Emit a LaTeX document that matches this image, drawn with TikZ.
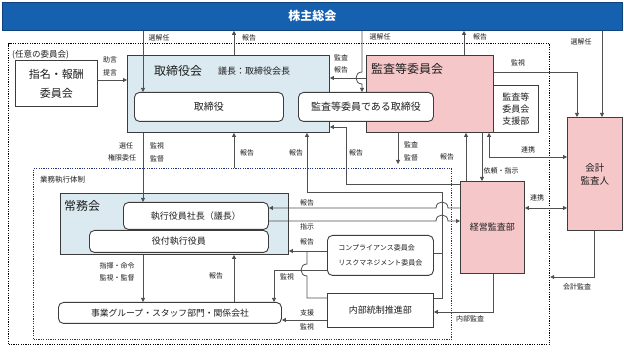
\documentclass[tikz,border=0pt]{standalone}
\usepackage{fontspec}
\setmainfont{Noto Sans CJK JP}
\usetikzlibrary{arrows.meta,calc}
\definecolor{banblue}{RGB}{22,96,176}
\definecolor{lblue}{RGB}{219,234,241}
\definecolor{pinkf}{RGB}{246,199,201}
\definecolor{bd}{RGB}{60,60,60}
\definecolor{lnc}{RGB}{80,80,80}
\definecolor{navy}{RGB}{30,50,120}
\definecolor{txt}{RGB}{30,30,30}
\begin{document}
\begin{tikzpicture}[x=1pt,y=-1pt,
  box/.style={draw=bd, line width=0.9pt, inner sep=0pt, anchor=north west, align=center, text=txt},
  rbox/.style={box, rounded corners=5pt, fill=white},
  ln/.style={draw=lnc, line width=0.8pt},
  arr/.style={ln, -{Triangle[length=4pt,width=4pt]}},
  darr/.style={ln, {Triangle[length=4pt,width=4pt]}-{Triangle[length=4pt,width=4pt]}},
  lab/.style={font=\fontsize{7}{8}\selectfont, text=txt, inner sep=0pt},
  fA/.style={font=\fontsize{12}{14}\selectfont},
  fB/.style={font=\fontsize{9.5}{12}\selectfont},
  fC/.style={font=\fontsize{9}{12}\selectfont},
]
\useasboundingbox (0,0) rectangle (624,352);
\fill[white] (0,0) rectangle (624,352);

% dotted frames
\node[draw=black, line width=1.2pt, dash pattern=on 1.2pt off 1.2pt, anchor=north west, minimum width=541pt, minimum height=301pt, inner sep=0pt] (outer) at (8,43) {};
\node[draw=navy, line width=1.2pt, dash pattern=on 1.2pt off 1.2pt, anchor=north west, minimum width=418pt, minimum height=171pt, inner sep=0pt] (inner) at (33,168) {};
\node[anchor=west, inner sep=0pt, font=\fontsize{8.5}{10}\selectfont, text=txt] (tnin) at (12,55) {(任意の委員会)};
\node[anchor=west, inner sep=0pt, font=\fontsize{7.5}{9}\selectfont, text=txt] (tgyomu) at (40,180) {業務執行体制};

% banner
\node[fill=banblue, draw=banblue!70!black, line width=0.8pt, anchor=north west, minimum width=620pt, minimum height=28pt, inner sep=0pt, text=white, font=\bfseries\fontsize{12}{14}\selectfont] (ban) at (2,2) {株主総会};

% boxes
\node[box, minimum width=82pt, minimum height=46pt, font=\fontsize{11}{19}\selectfont] (nom) at (15,60) {指名・報酬\\委員会};
\node[box, fill=lblue, minimum width=202pt, minimum height=77pt] (torikai) at (127,55) {};
\node[box, fill=pinkf, minimum width=127pt, minimum height=77pt] (kansakai) at (366,55) {};
\node[box, fill=white, minimum width=45pt, minimum height=47pt, fC, font=\fontsize{9}{12}\selectfont] (shien) at (493,85) {監査等\\委員会\\支援部};
\node[rbox, minimum width=149pt, minimum height=29pt, font=\fontsize{10}{12}\selectfont] (tor) at (134,92) {取締役};
\node[rbox, minimum width=135pt, minimum height=29pt, font=\fontsize{10}{12}\selectfont] (kantor) at (298,92) {監査等委員である取締役};
\node[anchor=west, inner sep=0pt, fA, text=txt] (ttorikai) at (154,71) {取締役会};
\node[anchor=west, inner sep=0pt, fC, text=txt] (tgicho) at (218,71) {議長：取締役会長};
\node[anchor=west, inner sep=0pt, fA, text=txt] (tkansa) at (371,69) {監査等委員会};

\node[box, fill=pinkf, minimum width=55pt, minimum height=113pt, font=\fontsize{9.5}{13}\selectfont] (kaikei) at (567,117) {会計\\監査人};
\node[box, fill=pinkf, minimum width=64pt, minimum height=92pt, fC] (keiei) at (460,181) {経営監査部};

\node[box, fill=lblue, minimum width=228pt, minimum height=61pt] (jomu) at (60,193) {};
\node[anchor=west, inner sep=0pt, fA, text=txt] (tjomu) at (64,206) {常務会};
\node[rbox, minimum width=145pt, minimum height=27pt, fC] (shacho) at (123,202) {執行役員社長（議長）};
\node[rbox, minimum width=179pt, minimum height=22pt, fC] (yaku) at (89,230) {役付執行役員};
\node[rbox, minimum width=223pt, minimum height=21pt, font=\fontsize{8.8}{11}\selectfont] (jigyo) at (58,302) {事業グループ・スタッフ部門・関係会社};
\node[rbox, minimum width=106pt, minimum height=40pt, font=\fontsize{7}{15}\selectfont, align=left] (comp) at (327,235) {コンプライアンス委員会\\リスクマネジメント委員会};
\node[box, fill=white, minimum width=106pt, minimum height=34pt, fC] (naibu) at (327,293) {内部統制推進部};

% helper coordinates
\foreach \v in {143,234,274,307,346,362,398,442,464,466,482,489,493,577,594,602}{\coordinate (X\v) at (\v,0);}
\foreach \v in {72,78,127,157,184,192,208,221,251,253,270,277,298,312,320,80}{\coordinate (Y\v) at (0,\v);}

% connectors
\draw[arr] (nom.east |- Y80) -- (torikai.west |- Y80);
\draw[arr] (ban.south -| X143) -- (tor.north -| X143);
\draw[arr] (torikai.north -| X234) -- (ban.south -| X234);
\draw[arr] (ban.south -| X362) -- (362,72) .. controls (354,72) and (354,84) .. (362,84) -- (kantor.north -| X362);
\draw[arr] (kansakai.west |- Y78) -- (torikai.east |- Y78);
\draw[arr] (kansakai.north -| X464) -- (ban.south -| X464);
\draw[arr] (ban.south -| X602) -- (kaikei.north -| X602);
\draw[arr] (kansakai.east |- Y72) -| (kaikei.north -| X577);
\draw[darr] (kansakai.south -| X489) |- (kaikei.west |- Y157);
\draw[arr] (keiei.north -| X466) -- (kansakai.south -| X466);
\draw[arr] (kansakai.south -| X482) -- (keiei.north -| X482);
\draw[arr, shorten >=4pt] (kansakai.south -| X398) -- (inner.north -| X398);
\draw[arr] (inner.north -| X234) -- (torikai.south -| X234);
\draw[arr] (naibu.east |- Y298) -- (X442 |- Y298) -- (X442 |- Y192) -- (X307 |- Y192) -- (torikai.south -| X307);
\draw[ln] (comp.east |- Y253) -- (X442 |- Y253);
\draw[arr] (keiei.west |- Y184) -| (X346 |- Y127) -- (torikai.east |- Y127);
\draw[arr] (torikai.south -| X143) -- (shacho.north -| X143);
\draw[arr] (keiei.west |- Y208) -- (448,208) .. controls (448,200) and (436,200) .. (436,208) -- (shacho.east |- Y208);
\draw[arr] (shacho.east |- Y221) -- (436,221) .. controls (436,213) and (448,213) .. (448,221) -- (keiei.west |- Y221);
\draw[arr] (comp.west |- Y251) -- (jomu.east |- Y251);
\draw[ln] (naibu.west |- Y298) -- (307,298) -- (307,276) .. controls (299,276) and (299,264) .. (307,264) -- (307,251);
\draw[arr] (comp.west |- Y270) -| (jigyo.north -| X274);
\draw[arr] (jomu.south -| X143) -- (jigyo.north -| X143);
\draw[arr] (jigyo.north -| X234) -- (jomu.south -| X234);
\draw[arr] (naibu.west |- Y320) -- (jigyo.east |- Y320);
\draw[arr] (keiei.south -| X493) |- (naibu.east |- Y312);
\draw[darr] (keiei.east |- Y208) -- (kaikei.west |- Y208);
\draw[arr] (kaikei.south -| X594) |- (outer.east |- Y277);

% labels
\node[lab] (l1) at (110,60) {助言};
\node[lab] (l2) at (110,73) {提言};
\node[lab] (l3) at (159,38) {選解任};
\node[lab] (l4) at (249,38) {報告};
\node[lab] (l5) at (380,37) {選解任};
\node[lab] (l6) at (480,37) {報告};
\node[lab] (l7) at (581,42) {選解任};
\node[lab] (l8) at (341,58) {監査};
\node[lab] (l9) at (341,70) {報告};
\node[lab] (l10) at (518,63) {監視};
\node[lab] (l11) at (528,150) {連携};
\node[lab] (l12) at (447,157) {報告};
\node[lab] (l13) at (501,171) {依頼・指示};
\node[lab] (l14) at (411,145) {監査};
\node[lab] (l15) at (411,158) {監督};
\node[lab] (l16) at (247,153) {報告};
\node[lab] (l17) at (296,153) {報告};
\node[lab] (l18) at (356,153) {報告};
\node[lab] (l19) at (126,146) {選任};
\node[lab] (l20) at (122,158) {権限委任};
\node[lab] (l21) at (157,146) {監視};
\node[lab] (l22) at (157,159) {監督};
\node[lab] (l23) at (307,203) {報告};
\node[lab] (l24) at (307,227) {指示};
\node[lab] (l25) at (307,242) {報告};
\node[lab] (l26) at (287,277) {監視};
\node[lab] (l27) at (117,266) {指揮・命令};
\node[lab] (l28) at (117,278) {監視・監督};
\node[lab] (l29) at (216,276) {報告};
\node[lab] (l30) at (307,313) {支援};
\node[lab] (l31) at (307,327) {監視};
\node[lab] (l32) at (470,319) {内部監査};
\node[lab] (l33) at (537,198) {連携};
\node[lab] (l34) at (577,287) {会計監査};
\end{tikzpicture}
\end{document}
